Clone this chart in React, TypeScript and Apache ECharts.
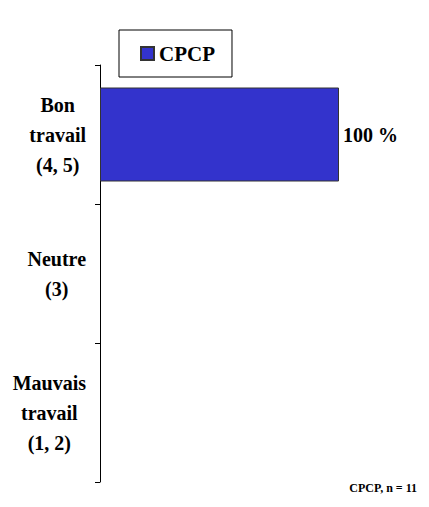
import React, { useEffect, useRef } from "react";
import * as echarts from "echarts";

const categories = ["Bon\ntravail\n(4, 5)", "Neutre\n(3)", "Mauvais\ntravail\n(1, 2)"];
const seriesName = "CPCP";
const values = [100, 0, 0];
const footnote = "CPCP, n = 11";

const FONT = "Liberation Serif";

export default function App() {
  const ref = useRef<HTMLDivElement>(null);
  useEffect(() => {
    document.body.style.margin = "0";
    if (!ref.current) return;
    const chart = echarts.init(ref.current, undefined, { renderer: "svg" });
    const labelStyle = { fontFamily: FONT, fontWeight: "bold", fontSize: 20, color: "#000", lineHeight: 30 };
    chart.setOption({
      animation: false,
      backgroundColor: "#ffffff",
      textStyle: { fontFamily: FONT, fontWeight: "bold", color: "#000" },
      grid: { left: 100, right: 90, top: 65, bottom: 25, containLabel: false, outerBoundsMode: "none" },
      legend: {
        show: true,
        left: 119,
        top: 30,
        padding: [13, 17, 13, 21],
        borderColor: "#000",
        borderWidth: 1,
        borderRadius: 0,
        itemWidth: 13,
        itemHeight: 13,
        itemGap: 4,
        icon: "rect",
        textStyle: { fontFamily: FONT, fontWeight: "bold", fontSize: 21, color: "#000" },
        data: [seriesName],
      },
      xAxis: {
        type: "value",
        min: 0,
        max: 100,
        show: false,
      },
      yAxis: {
        type: "category",
        inverse: true,
        data: categories,
        axisLine: { show: true, lineStyle: { color: "#000", width: 1 } },
        axisTick: { show: true, length: 5, lineStyle: { color: "#000" } },
        axisLabel: {
          ...labelStyle,
          align: "right",
          margin: 14,
          formatter: (v: string) =>
            v
              .split("\n")
              .map((line) => "{c|" + line + "}")
              .join("\n"),
          rich: { c: { ...labelStyle, align: "center" } },
        },
        splitLine: { show: false },
      },
      series: [
        {
          name: seriesName,
          type: "bar",
          data: values.map((v) => ({ value: v, itemStyle: v ? {} : { borderWidth: 0 } })),
          barWidth: 94,
          itemStyle: { color: "#3333CC", borderColor: "#333333", borderWidth: 1 },
          label: {
            show: true,
            position: "right",
            distance: 4,
            fontFamily: FONT,
            fontWeight: "bold",
            fontSize: 20,
            color: "#000",
            formatter: (p: any) => (p.value ? p.value + " %" : ""),
          },
        },
      ],
      graphic: [
        {
          type: "text",
          right: 12,
          top: 482,
          style: {
            text: footnote,
            fontFamily: FONT,
            fontWeight: "bold",
            fontSize: 12,
            fill: "#000",
          },
        },
      ],
    });
    return () => chart.dispose();
  }, []);
  return <div ref={ref} style={{ width: 429, height: 507 }} />;
}
